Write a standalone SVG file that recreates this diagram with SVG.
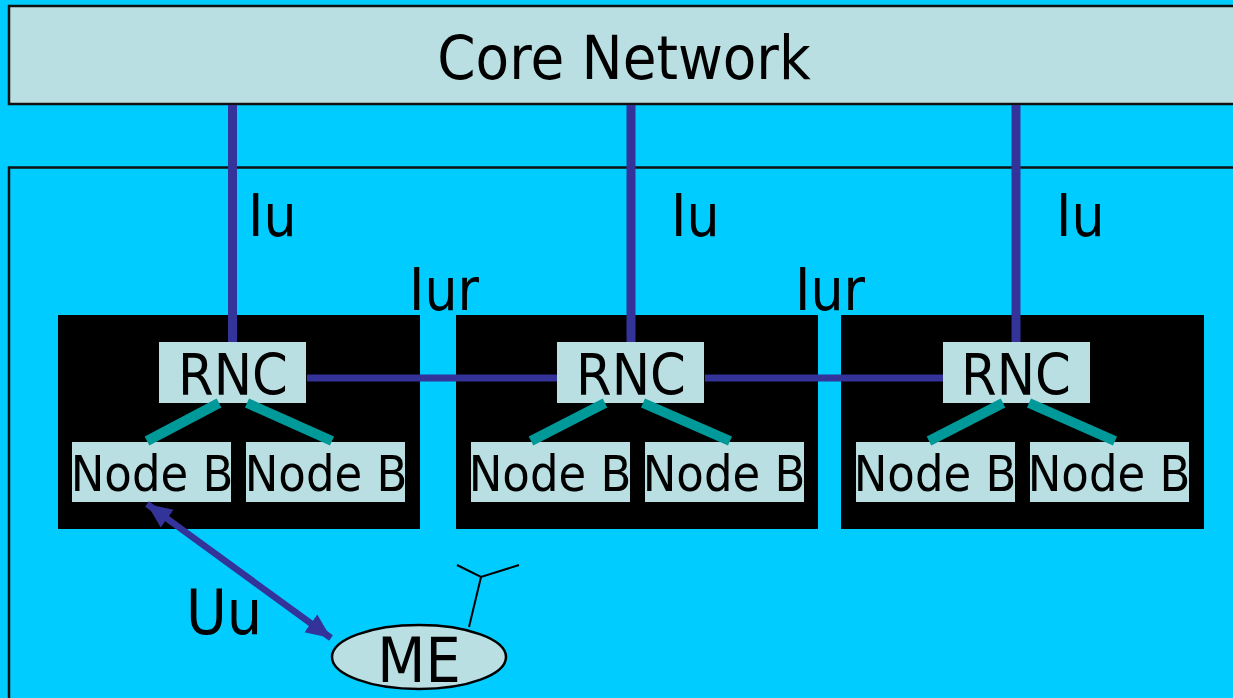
<svg xmlns="http://www.w3.org/2000/svg" width="1233" height="698" viewBox="0 0 1233 698">
<style>
text{font-family:"DejaVu Sans Condensed","DejaVu Sans",sans-serif;fill:#000}
.box{fill:#b9dfe2}
.frame{stroke:#111;stroke-width:2.500}
.black{fill:#000}
.blue{stroke:#333399;fill:none}
.teal{stroke:#009999;stroke-width:10;fill:none}
.l{font-size:58px}
.m{font-size:50px;text-anchor:middle}
.r{font-size:57px;text-anchor:middle}
</style>
<defs>
<marker id="a" markerUnits="userSpaceOnUse" markerWidth="26" markerHeight="26" refX="25" refY="13" orient="auto-start-reverse"><path d="M0 2L25 13L0 24z" fill="#333399"/></marker>
</defs>
<rect width="1233" height="698" fill="#00ccff"/>
<rect id="ran-frame" x="9" y="167.500" width="1240" height="545" fill="none" class="frame"/>
<g id="rnc-group-1"><rect class="black" x="58" y="315" width="362" height="214"/></g>
<g id="rnc-group-2"><rect class="black" x="456" y="315" width="362" height="214"/></g>
<g id="rnc-group-3"><rect class="black" x="841" y="315" width="363" height="214"/></g>
<g id="core-network"><rect class="box frame" x="9" y="6" width="1240" height="98"/><text x="624" y="79" font-size="61" text-anchor="middle">Core Network</text></g>
<g id="rnc-1"><rect class="box" x="159" y="342" width="147" height="61"/><text class="r" x="233" y="395">RNC</text></g>
<g id="rnc-2"><rect class="box" x="557" y="342" width="147" height="61"/><text class="r" x="631" y="395">RNC</text></g>
<g id="rnc-3"><rect class="box" x="943" y="342" width="147" height="61"/><text class="r" x="1016" y="395">RNC</text></g>
<g id="node-b-1"><rect class="box" x="72" y="442" width="159" height="60"/><text class="m" x="152" y="491">Node B</text></g>
<g id="node-b-2"><rect class="box" x="246" y="442" width="159" height="60"/><text class="m" x="326" y="491">Node B</text></g>
<g id="node-b-3"><rect class="box" x="471" y="442" width="159" height="60"/><text class="m" x="550" y="491">Node B</text></g>
<g id="node-b-4"><rect class="box" x="645" y="442" width="159" height="60"/><text class="m" x="724" y="491">Node B</text></g>
<g id="node-b-5"><rect class="box" x="856" y="442" width="159" height="60"/><text class="m" x="935" y="491">Node B</text></g>
<g id="node-b-6"><rect class="box" x="1030" y="442" width="159" height="60"/><text class="m" x="1109" y="491">Node B</text></g>
<g id="me"><ellipse class="box" cx="419" cy="657" rx="87" ry="32" stroke="#000" stroke-width="2.500"/><text class="r" x="419" y="682" style="font-size:62px">ME</text></g>
<g id="connectors">
<path class="blue" stroke-width="9" d="M232.500 105V342M631 105V342M1016 105V342"/>
<path class="blue" stroke-width="7" d="M307 378H557M705 378H943"/>
<path class="teal" d="M219 403L147 441M247 403L332 441M605 403L531 441M643 403L730 441M1003 403L929 441M1029 403L1115 441"/>
<path class="blue" stroke-width="6.500" d="M147 504L331 638" marker-start="url(#a)" marker-end="url(#a)"/>
<path fill="none" stroke="#000" stroke-width="2" d="M469 627L481 577M457 565L481 577L519 565"/>
</g>
<g id="labels">
<text class="l" x="248" y="236">Iu</text>
<text class="l" x="671" y="236">Iu</text>
<text class="l" x="1056" y="236">Iu</text>
<text class="l" x="409" y="310">Iur</text>
<text class="l" x="795" y="310">Iur</text>
<text class="l" x="186" y="634" style="font-size:62px">Uu</text>
</g>
</svg>
